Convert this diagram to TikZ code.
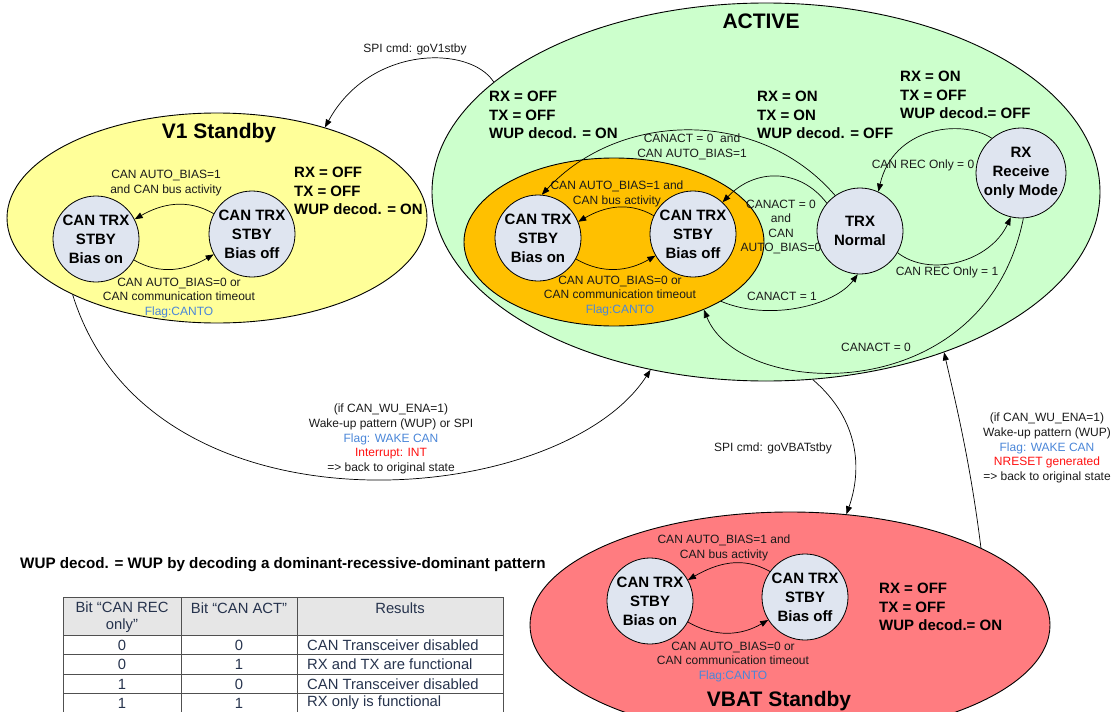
\documentclass[tikz,border=0pt]{standalone}
\usepackage{fontspec}
\setmainfont{Liberation Sans}
\usetikzlibrary{shapes.geometric,arrows.meta}
\definecolor{yel}{HTML}{FFFF99}
\definecolor{grn}{HTML}{CCFFCC}
\definecolor{org}{HTML}{FFC000}
\definecolor{rd}{HTML}{FF7C80}
\definecolor{circfill}{HTML}{DFE5F0}
\definecolor{flagc}{HTML}{4A86D8}
\definecolor{intc}{HTML}{FF1010}
\definecolor{txt}{HTML}{1A1A1A}
\definecolor{tabtxt}{HTML}{26334D}
\definecolor{tabhead}{HTML}{E6E6E6}
\definecolor{tabline}{HTML}{505050}
\begin{document}
\begin{tikzpicture}[x=1pt,y=-1pt,
  state/.style={circle, draw, line width=0.8pt, fill=circfill, minimum size=86pt, inner sep=0pt, align=center, font=\bfseries\fontsize{15}{19}\selectfont},
  grp/.style={ellipse, draw, inner sep=0pt, line width=0.9pt},
  lbl/.style={align=center, font=\fontsize{12}{14.6}\selectfont, inner sep=0pt, text=txt},
  info/.style={align=left, anchor=west, font=\bfseries\fontsize{15}{18.5}\selectfont, inner sep=0pt},
  ttl/.style={font=\bfseries\fontsize{21}{24}\selectfont, inner sep=0pt},
  arr/.style={-{Triangle[length=8pt,width=6pt]}, line width=0.7pt},
  tcell/.style={font=\fontsize{14.8}{17.5}\selectfont, text=tabtxt, inner sep=0pt}
]
\useasboundingbox (0,0) rectangle (1120,712);
\clip (0,0) rectangle (1120,712);

% group ellipses
\node[grp, fill=yel, minimum width=420pt, minimum height=210pt] (v1) at (217,218) {};
\node[grp, fill=grn, minimum width=668pt, minimum height=378pt] (act) at (766,192) {};
\node[grp, fill=org, minimum width=300pt, minimum height=168pt] (oe) at (614,242) {};
\node[grp, fill=rd, minimum width=520pt, minimum height=226pt] (vb) at (790,625) {};

% titles
\node[ttl] (t1) at (219,133) {V1 Standby};
\node[ttl] (t2) at (761,21) {ACTIVE};
\node[ttl] (t3) at (779,701) {VBAT Standby};

% states
\node[state] (v1on) at (96,239) {CAN TRX\\STBY\\Bias on};
\node[state] (v1off) at (252,234) {CAN TRX\\STBY\\Bias off};
\node[state] (oon) at (538,238) {CAN TRX\\STBY\\Bias on};
\node[state] (ooff) at (693,234) {CAN TRX\\STBY\\Bias off};
\node[state] (trx) at (860,231) {TRX\\Normal};
\node[state] (rx) at (1021,173) {RX\\Receive\\only Mode};
\node[state] (von) at (650,601) {CAN TRX\\STBY\\Bias on};
\node[state] (voff) at (805,597) {CAN TRX\\STBY\\Bias off};

% info texts
\node[info] (i1) at (294,191) {RX = OFF\\TX = OFF\\WUP decod. = ON};
\node[info] (i2) at (489,115) {RX = OFF\\TX = OFF\\WUP decod. = ON};
\node[info] (i3) at (757,115) {RX = ON\\TX = ON\\WUP decod. = OFF};
\node[info] (i4) at (900,95) {RX = ON\\TX = OFF\\WUP decod.= OFF};
\node[info] (i5) at (879,607) {RX = OFF\\TX = OFF\\WUP decod.= ON};

% V1 internal transitions
\draw[arr] (v1off.152) to[out=150, in=30] (v1on.27);
\draw[arr] (v1on.-29) to[out=-30, in=210] (v1off.-152);
\node[lbl] (l1) at (166,183) {CAN AUTO\_BIAS=1\\and CAN bus activity};
\node[lbl] (l2) at (179,298) {CAN AUTO\_BIAS=0 or\\CAN communication timeout\\\textcolor{flagc}{Flag:CANTO}};

% orange internal transitions
\draw[arr] (ooff.155) to[out=150, in=30] (oon.22);
\draw[arr] (oon.-29) to[out=-30, in=210] (ooff.-150);
\node[lbl] (l3) at (617,194) {CAN AUTO\_BIAS=1 and\\CAN bus activity};
\node[lbl] (l4) at (620,296) {CAN AUTO\_BIAS=0 or\\CAN communication timeout\\\textcolor{flagc}{Flag:CANTO}};

% VBAT internal transitions
\draw[arr] (voff.144) to[out=150, in=30] (von.29);
\draw[arr] (von.-29) to[out=-30, in=210] (voff.-148);
\node[lbl] (l5) at (724,548) {CAN AUTO\_BIAS=1 and\\CAN bus activity};
\node[lbl] (l6) at (733,662) {CAN AUTO\_BIAS=0 or\\CAN communication timeout\\\textcolor{flagc}{Flag:CANTO}};

% ACTIVE transitions
\draw[arr] (trx.125) .. controls (760,108) and (620,110) .. (oon.85);
\node[lbl] (l7) at (692,147) {CANACT = 0~~and\\CAN AUTO\_BIAS=1};
\draw[arr] (trx.140) .. controls (800,168) and (755,168) .. (ooff.47);
\node[lbl] (l8) at (781,227) {CANACT = 0\\and\\CAN\\AUTO\_BIAS=0};
\draw[arr] (oe.-29) .. controls (770,322) and (835,305) .. (trx.267);
\node[lbl] (l9) at (782,296) {CANACT = 1};
\draw[arr] (rx.273) .. controls (985,410) and (740,400) .. (oe.-37);
\node[lbl] (l10) at (876,347) {CANACT = 0};
\draw[arr] (trx.-30) .. controls (930,278) and (990,262) .. (rx.257);
\node[lbl] (l11) at (947,272) {CAN REC Only = 1};
\draw[arr] (rx.130) .. controls (960,118) and (893,128) .. (trx.65);
\node[lbl] (l12) at (923,165) {CAN REC Only = 0};

% group transitions
\draw[arr] (act.158) .. controls (470,45) and (370,45) .. (v1.40);
\node[lbl] (l13) at (415,49) {SPI cmd: goV1stby};
\draw[arr] (v1.208) .. controls (150,545) and (560,510) .. (act.237.4);
\node[lbl] (l14) at (391,439) {(if CAN\_WU\_ENA=1)\\Wake-up pattern (WUP) or SPI\\\textcolor{flagc}{Flag: WAKE CAN}\\\textcolor{intc}{Interrupt: INT}\\=> back to original state};
\draw[arr] (act.-76.8) .. controls (860,420) and (862,470) .. (vb.63.4);
\node[lbl] (l15) at (773,448) {SPI cmd: goVBATstby};
\draw[arr] (vb.22.3) .. controls (970,460) and (955,400) .. (act.-42.6);
\node[lbl] (l16) at (1047,448) {(if CAN\_WU\_ENA=1)\\Wake-up pattern (WUP)\\\textcolor{flagc}{Flag: WAKE CAN}\\\textcolor{intc}{NRESET generated}\\=> back to original state};

% footnote
\node[anchor=west, inner sep=0pt, font=\bfseries\fontsize{15.2}{17}\selectfont] (fn) at (20,565) {WUP decod. = WUP by decoding a dominant-recessive-dominant pattern};

% table
\fill[tabhead] (63,597) rectangle (503,635);
\draw[tabline, line width=1pt] (63,597) rectangle (503,716);
\foreach \yy in {635,654,674,693,713} \draw[tabline, line width=1pt] (63,\yy) -- (503,\yy);
\foreach \xx in {181,297} \draw[tabline, line width=1pt] (\xx,597) -- (\xx,716);
\node[tcell, align=center] (h1) at (122,617) {Bit “CAN REC\\only”};
\node[tcell] (h2) at (239,608) {Bit “CAN ACT”};
\node[tcell] (h3) at (400,608) {Results};
\node[tcell] (a1) at (122,645) {0};
\node[tcell] (b1) at (239,645) {0};
\node[tcell, anchor=west] (c1) at (307,645) {CAN Transceiver disabled};
\node[tcell] (a2) at (122,664) {0};
\node[tcell] (b2) at (239,664) {1};
\node[tcell, anchor=west] (c2) at (307,664) {RX and TX are functional};
\node[tcell] (a3) at (122,684) {1};
\node[tcell] (b3) at (239,684) {0};
\node[tcell, anchor=west] (c3) at (307,684) {CAN Transceiver disabled};
\node[tcell] (a4) at (122,703) {1};
\node[tcell] (b4) at (239,703) {1};
\node[tcell, anchor=west] (c4) at (307,703) {RX only is functional};
\end{tikzpicture}
\end{document}
